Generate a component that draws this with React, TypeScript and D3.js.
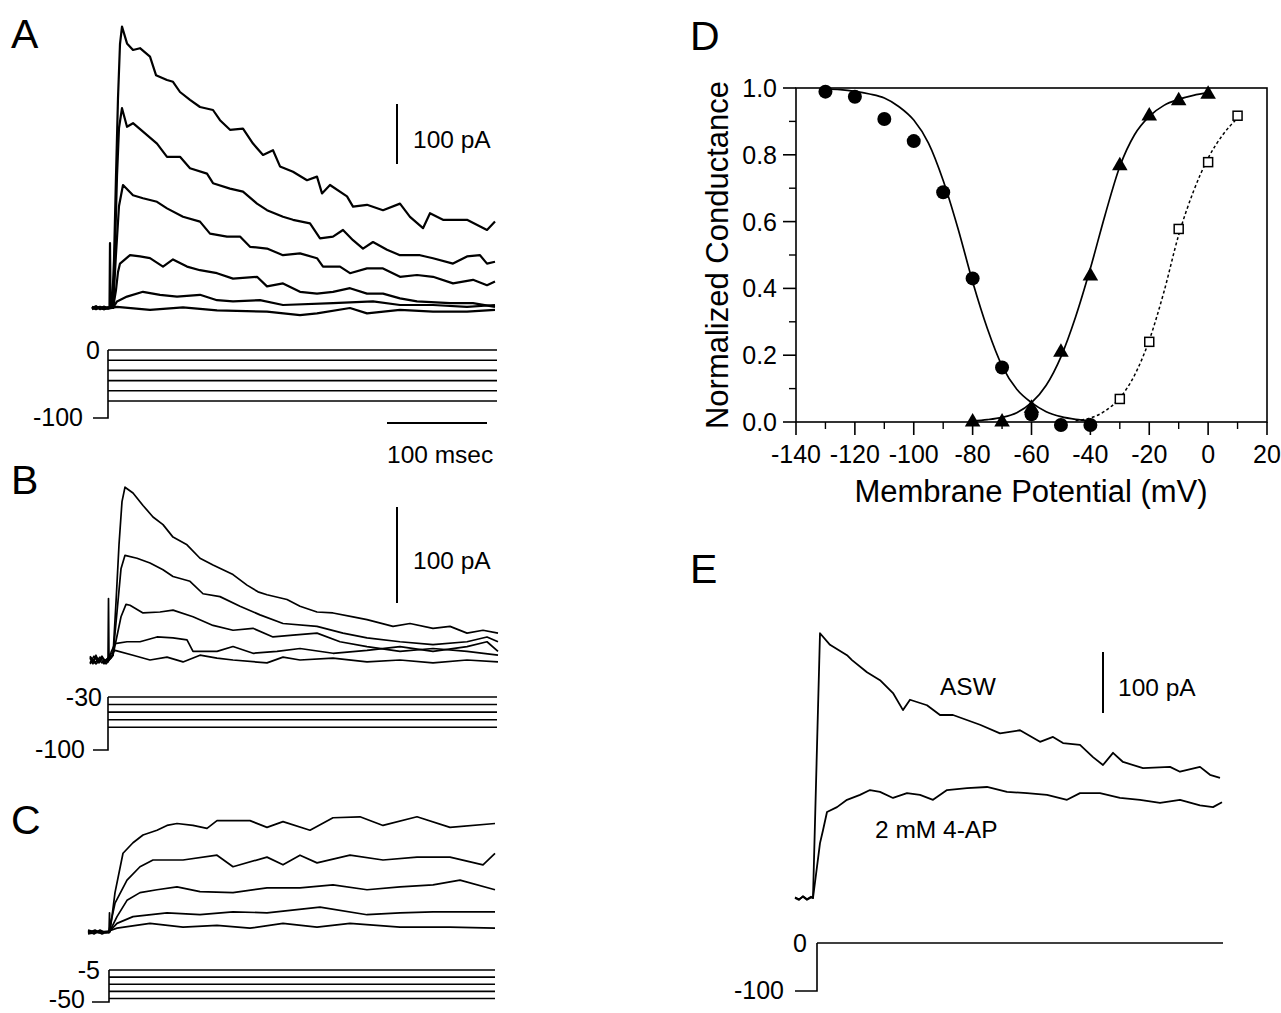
import React from 'react';
import * as d3 from 'd3';

type P = [number, number];

// ---------- Panel D data (membrane potential mV, normalized conductance) ----------
const dInactV = [-130, -120, -110, -100, -90, -80, -70, -60, -50, -40];
const dInactG = [0.989, 0.974, 0.907, 0.841, 0.688, 0.43, 0.163, 0.023, -0.009, -0.009];
const dActV = [-80, -70, -60, -50, -40, -30, -20, -10, 0];
const dActG = [0.0, 0.0, 0.041, 0.209, 0.437, 0.767, 0.916, 0.962, 0.981];
const dSqV = [-30, -20, -10, 0, 10];
const dSqG = [0.069, 0.24, 0.578, 0.778, 0.917];
const fitInactV = [-130, -125, -120, -115, -110, -105, -100, -95, -90, -85, -80, -75, -70, -65, -60, -55, -50, -45, -40];
const fitInactG = [0.997, 0.995, 0.99, 0.982, 0.97, 0.944, 0.904, 0.835, 0.723, 0.58, 0.42, 0.28, 0.168, 0.098, 0.058, 0.031, 0.016, 0.008, 0.004];
const fitActV = [-80, -75, -70, -65, -60, -55, -50, -45, -40, -35, -30, -25, -20, -15, -10, -5, 0];
const fitActG = [0.003, 0.007, 0.014, 0.028, 0.058, 0.11, 0.195, 0.315, 0.46, 0.62, 0.765, 0.86, 0.915, 0.948, 0.966, 0.978, 0.986];
const fitSqV = [-45, -40, -35, -30, -25, -20, -15, -10, -5, 0, 5, 10];
const fitSqG = [0.004, 0.012, 0.033, 0.072, 0.14, 0.245, 0.39, 0.56, 0.69, 0.79, 0.86, 0.91];
const dXTicks = [-140, -120, -100, -80, -60, -40, -20, 0, 20];
const dXMinor = [-130, -110, -90, -70, -50, -30, -10, 10];
const dYTicks = [0, 0.2, 0.4, 0.6, 0.8, 1.0];
const dYMinor = [0.1, 0.3, 0.5, 0.7, 0.9];

// ---------- Panel A current traces (ms after step, pA) ----------
const traceA1: P[] = [[-16,0],[-12,3],[-8,-2],[-4,2],[0,-1],[1.5,0],[2,108],[2.6,0],[4,0],[6,80],[8,220],[10,350],[12,440],[14,469],[19,441],[25,430],[32,433],[42,419],[48,388],[59,380],[65,377],[72,360],[82,347],[92,335],[105,330],[112,313],[122,297],[135,299],[145,274],[155,255],[165,263],[172,236],[185,227],[199,213],[209,219],[214,191],[222,205],[239,186],[245,169],[259,172],[275,163],[292,174],[302,152],[315,133],[322,158],[335,147],[359,147],[379,130],[387,144]];
const traceA2: P[] = [[-16,1],[-12,-2],[-8,2],[-4,-1],[0,1],[5,0],[7,100],[9,220],[11,300],[14,333],[19,302],[25,308],[35,294],[49,274],[59,252],[72,252],[82,233],[99,224],[105,208],[122,199],[135,194],[149,174],[159,163],[175,152],[185,147],[202,141],[212,116],[225,119],[235,130],[245,113],[255,99],[265,110],[279,97],[292,88],[312,88],[325,83],[345,74],[359,86],[372,88],[379,74],[387,77]];
const traceA3: P[] = [[-16,-1],[-12,2],[-8,0],[-4,-2],[0,1],[5,0],[8,90],[11,170],[15,205],[25,188],[35,183],[49,177],[59,166],[75,152],[92,144],[102,124],[119,119],[132,119],[142,102],[159,99],[175,88],[192,91],[209,83],[215,69],[232,69],[242,58],[259,66],[275,66],[292,52],[309,55],[325,52],[345,41],[365,47],[379,38],[387,44]];
const traceA4: P[] = [[-16,2],[-12,-1],[-8,1],[-4,-2],[0,0],[5,0],[8,30],[10,60],[12,74],[22,88],[32,86],[42,83],[55,69],[65,81],[79,69],[92,63],[109,58],[125,49],[149,52],[159,36],[175,41],[192,27],[209,24],[225,27],[242,33],[259,24],[275,24],[292,16],[309,11],[342,8],[365,8],[387,2]];
const traceA5: P[] = [[-16,-2],[-12,1],[-8,-1],[-4,2],[0,0],[5,0],[9,11],[19,19],[35,27],[52,22],[69,19],[92,22],[109,13],[125,11],[152,13],[175,5],[225,8],[265,11],[292,5],[325,5],[359,2],[387,5]];
const traceA6: P[] = [[-16,0],[-8,1],[0,-1],[9,2],[42,-3],[75,1],[109,-4],[159,-6],[192,-12],[209,-9],[242,0],[259,-9],[292,-3],[325,-6],[359,-6],[387,-3]];

// ---------- Panel B ----------
const traceB1: P[] = [[-18,2],[-15,-4],[-12,5],[-9,-3],[-6,4],[-3,-2],[0,0],[0.5,64],[1,0],[3,2],[5,5],[8,60],[11,120],[14,165],[17,180],[25,174],[35,161],[45,149],[55,141],[65,128],[79,120],[92,106],[105,99],[125,89],[139,78],[150,71],[159,68],[179,63],[192,56],[209,50],[225,49],[245,45],[259,42],[285,35],[302,38],[325,33],[342,35],[359,28],[375,31],[390,28]];
const traceB2: P[] = [[-18,-3],[-14,4],[-10,-2],[-6,3],[-2,-4],[2,1],[5,5],[9,50],[13,95],[17,109],[29,106],[42,101],[55,94],[65,87],[82,82],[95,69],[112,66],[132,56],[152,47],[175,38],[209,35],[235,28],[259,23],[292,19],[325,16],[359,19],[379,24],[390,19]];
const traceB3: P[] = [[-18,4],[-13,-3],[-8,3],[-4,-4],[0,2],[5,5],[9,25],[13,45],[18,58],[22,57],[35,49],[52,50],[65,52],[85,45],[105,36],[125,31],[145,33],[165,24],[185,26],[209,28],[232,19],[259,14],[292,9],[325,12],[359,9],[390,5]];
const traceB4: P[] = [[-18,-4],[-12,3],[-6,-3],[0,2],[3,8],[7,17],[19,19],[32,19],[49,24],[65,23],[79,21],[85,9],[109,9],[125,14],[145,7],[169,9],[192,12],[225,7],[259,10],[292,14],[325,9],[359,14],[379,19],[390,9]];
const traceB5: P[] = [[-18,3],[-12,-4],[-6,2],[0,-2],[3,6],[7,10],[25,5],[42,0],[59,3],[75,-2],[92,5],[109,2],[125,0],[159,-3],[175,3],[192,0],[225,2],[259,-2],[292,0],[325,-3],[359,0],[390,-2]];

// ---------- Panel C ----------
const traceC1: P[] = [[-21,1],[-15,-2],[-9,2],[-3,-1],[0,0],[0.5,20],[1,0],[6,41],[14,82],[24,93],[34,101],[48,106],[58,111],[68,113],[84,111],[98,108],[108,116],[141,116],[158,109],[174,115],[201,106],[224,119],[251,120],[274,111],[308,120],[341,109],[386,113]];
const traceC2: P[] = [[-21,-1],[-14,2],[-7,-2],[0,1],[6,30],[18,54],[31,68],[44,75],[74,75],[108,80],[124,68],[158,78],[174,70],[191,80],[208,72],[241,80],[274,75],[308,78],[341,78],[374,70],[386,82]];
const traceC3: P[] = [[-21,0],[-10,1],[0,-1],[8,16],[18,33],[31,41],[48,44],[68,47],[91,42],[124,41],[158,46],[191,46],[224,49],[258,44],[291,47],[324,49],[351,54],[386,44]];
const traceC4: P[] = [[-21,2],[-10,-1],[0,0],[8,9],[24,16],[58,20],[91,18],[124,21],[158,20],[211,26],[258,18],[291,20],[324,21],[386,21]];
const traceC5: P[] = [[-21,-2],[-10,0],[0,1],[8,4],[41,9],[74,5],[108,7],[141,4],[174,9],[208,5],[241,9],[291,5],[341,5],[386,4]];

// ---------- Panel E ----------
const traceASW: P[] = [[-22,0],[-18,-3],[-14,3],[-10,-2],[-6,2],[-4,0],[3,434],[13,415],[30,398],[35,390],[50,370],[63,357],[76,336],[86,308],[93,325],[110,316],[123,300],[136,300],[163,284],[183,270],[203,275],[223,256],[236,264],[246,254],[263,251],[276,231],[286,218],[296,238],[306,223],[326,213],[353,215],[363,207],[383,215],[393,202],[403,197]];
const trace4AP: P[] = [[-22,1],[-18,-2],[-14,2],[-10,-3],[-6,1],[-4,0],[3,90],[6,111],[10,141],[20,149],[30,161],[43,169],[53,177],[63,174],[76,164],[90,172],[103,169],[116,161],[130,177],[150,180],[170,182],[190,174],[210,172],[230,169],[250,161],[263,172],[283,172],[303,164],[323,161],[343,156],[363,161],[383,152],[396,149],[405,157]];

// ---------- Voltage protocols (mV) ----------
const stepsA = [0, -15, -30, -45, -60, -75];
const stepsB = [-30, -40, -50, -60, -70];
const stepsC = [-5, -15, -25, -35, -45];
const stepsE = [0];
const holdA = -100, holdB = -100, holdC = -50, holdE = -100;
const labelsA = ['0', '-100'];
const labelsB = ['-30', '-100'];
const labelsC = ['-5', '-50'];
const labelsE = ['0', '-100'];

const FONT = "'Liberation Sans', Arial, Helvetica, sans-serif";

function Trace({ data, xs, ys, w }: { data: P[]; xs: any; ys: any; w: number }) {
  const gen = d3.line<P>().x(d => xs(d[0])).y(d => ys(d[1]));
  return <path d={gen(data) || ''} fill="none" stroke="#000" strokeWidth={w} strokeLinejoin="round" />;
}

function Protocol({ steps, hold, labels, xs, vs, tStart, tEnd, topLabelX, botLabelX, botDy = 8 }: any) {
  const top = Math.max(...steps);
  const x0 = xs(0);
  return (
    <g>
      <path d={`M${xs(tStart)},${vs(hold)}H${x0}V${vs(top)}`} fill="none" stroke="#000" strokeWidth={1.6} />
      {steps.map((s: number, i: number) => (
        <line key={i} x1={x0} x2={xs(tEnd)} y1={vs(s)} y2={vs(s)} stroke="#000" strokeWidth={1.6} />
      ))}
      <text x={topLabelX} y={vs(top) + 9} textAnchor="end" fontSize={25} fontFamily={FONT}>{labels[0]}</text>
      <text x={botLabelX} y={vs(hold) + botDy} textAnchor="end" fontSize={25} fontFamily={FONT}>{labels[1]}</text>
    </g>
  );
}

export default function App() {
  // Panel A scales
  const xA = d3.scaleLinear().domain([0, 100]).range([108, 208]);
  const yA = d3.scaleLinear().domain([0, 100]).range([308, 248]);
  const vA = d3.scaleLinear().domain([-100, 0]).range([418, 350]);
  // Panel B
  const xB = d3.scaleLinear().domain([0, 100]).range([108, 208]);
  const yB = d3.scaleLinear().domain([0, 100]).range([660, 564]);
  const vB = d3.scaleLinear().domain([-100, -30]).range([750, 697]);
  // Panel C
  const xC = d3.scaleLinear().domain([0, 100]).range([109, 209]);
  const yC = d3.scaleLinear().domain([0, 100]).range([932, 836]);
  const vC = d3.scaleLinear().domain([-50, -5]).range([1002, 970]);
  // Panel E
  const xE = d3.scaleLinear().domain([0, 100]).range([817, 917]);
  const yE = d3.scaleLinear().domain([0, 100]).range([898, 837]);
  const vE = d3.scaleLinear().domain([-100, 0]).range([991, 943]);
  // Panel D
  const xD = d3.scaleLinear().domain([-140, 20]).range([796, 1267]);
  const yD = d3.scaleLinear().domain([0, 1]).range([422, 88]);

  const mk = (vs: number[], gs: number[]) =>
    d3.line<number>().x(i => xD(vs[i])).y(i => yD(gs[i])).curve(d3.curveMonotoneX)(vs.map((_, i) => i)) || '';
  const tri = d3.symbol().type(d3.symbolTriangle).size(105)() || '';

  const label = (t: string, x: number, y: number) => (
    <text x={x} y={y} fontSize={41} fontFamily={FONT}>{t}</text>
  );

  return (
    <svg width={1281} height={1013} style={{ position: 'absolute', left: 0, top: 0, background: '#fff' }}>
      <rect x={0} y={0} width={1281} height={1013} fill="#fff" />
      {label('A', 11, 48)}
      {label('B', 11, 494)}
      {label('C', 11, 834)}
      {label('D', 690, 50)}
      {label('E', 690, 583)}

      {/* Panel A */}
      {[traceA6, traceA5, traceA4, traceA3, traceA2, traceA1].map((t, i) => (
        <Trace key={i} data={t} xs={xA} ys={yA} w={2.2} />
      ))}
      <line x1={397} x2={397} y1={164} y2={164 - (yA(0) - yA(100))} stroke="#000" strokeWidth={2} />
      <text x={413} y={148} fontSize={24.5} fontFamily={FONT}>100 pA</text>
      <line x1={387} x2={387 + (xA(100) - xA(0))} y1={423} y2={423} stroke="#000" strokeWidth={2} />
      <text x={387} y={463} fontSize={24.5} fontFamily={FONT}>100 msec</text>
      <Protocol steps={stepsA} hold={holdA} labels={labelsA} xs={xA} vs={vA} tStart={-15} tEnd={389} topLabelX={100} botLabelX={83} />

      {/* Panel B */}
      {[traceB5, traceB4, traceB3, traceB2, traceB1].map((t, i) => (
        <Trace key={i} data={t} xs={xB} ys={yB} w={1.7} />
      ))}
      <line x1={397} x2={397} y1={603} y2={603 - (yB(0) - yB(100))} stroke="#000" strokeWidth={2} />
      <text x={413} y={569} fontSize={24.5} fontFamily={FONT}>100 pA</text>
      <Protocol steps={stepsB} hold={holdB} labels={labelsB} xs={xB} vs={vB} tStart={-15} tEnd={389} topLabelX={102} botLabelX={85} />

      {/* Panel C */}
      {[traceC5, traceC4, traceC3, traceC2, traceC1].map((t, i) => (
        <Trace key={i} data={t} xs={xC} ys={yC} w={1.7} />
      ))}
      <Protocol steps={stepsC} hold={holdC} labels={labelsC} xs={xC} vs={vC} tStart={-17} tEnd={386} topLabelX={100} botLabelX={85} botDy={6} />

      {/* Panel E */}
      <Trace data={traceASW} xs={xE} ys={yE} w={1.8} />
      <Trace data={trace4AP} xs={xE} ys={yE} w={1.8} />
      <line x1={1103} x2={1103} y1={713} y2={713 - (yE(0) - yE(100))} stroke="#000" strokeWidth={2} />
      <text x={1118} y={696} fontSize={24.5} fontFamily={FONT}>100 pA</text>
      <text x={940} y={695} fontSize={24.5} fontFamily={FONT}>ASW</text>
      <text x={875} y={838} fontSize={24.5} fontFamily={FONT}>2 mM 4-AP</text>
      <Protocol steps={stepsE} hold={holdE} labels={labelsE} xs={xE} vs={vE} tStart={-22} tEnd={406} topLabelX={807} botLabelX={784} />

      {/* Panel D */}
      <g fontFamily={FONT}>
        <rect x={xD(-140)} y={yD(1)} width={xD(20) - xD(-140)} height={yD(0) - yD(1)} fill="none" stroke="#000" strokeWidth={1.6} />
        {dXTicks.map(v => (
          <g key={'xt' + v}>
            <line x1={xD(v)} x2={xD(v)} y1={yD(0)} y2={yD(0) + 13} stroke="#000" strokeWidth={1.6} />
            <text x={xD(v)} y={463} textAnchor="middle" fontSize={25}>{v}</text>
          </g>
        ))}
        {dXMinor.map(v => (
          <line key={'xm' + v} x1={xD(v)} x2={xD(v)} y1={yD(0)} y2={yD(0) + 7} stroke="#000" strokeWidth={1.4} />
        ))}
        {dYTicks.map(g => (
          <g key={'yt' + g}>
            <line x1={xD(-140) - 13} x2={xD(-140)} y1={yD(g)} y2={yD(g)} stroke="#000" strokeWidth={1.6} />
            <text x={777} y={yD(g) + 9} textAnchor="end" fontSize={25}>{g.toFixed(1)}</text>
          </g>
        ))}
        {dYMinor.map(g => (
          <line key={'ym' + g} x1={xD(-140) - 7} x2={xD(-140)} y1={yD(g)} y2={yD(g)} stroke="#000" strokeWidth={1.4} />
        ))}
        <text x={1031} y={502} textAnchor="middle" fontSize={31}>Membrane Potential (mV)</text>
        <text transform="translate(728,255) rotate(-90)" textAnchor="middle" fontSize={31}>Normalized Conductance</text>

        <path d={mk(fitInactV, fitInactG)} fill="none" stroke="#000" strokeWidth={1.7} />
        <path d={mk(fitActV, fitActG)} fill="none" stroke="#000" strokeWidth={1.7} />
        <path d={mk(fitSqV, fitSqG)} fill="none" stroke="#000" strokeWidth={1.5} strokeDasharray="3,2.5" />

        {dInactV.map((v, i) => (
          <circle key={'c' + v} cx={xD(v)} cy={yD(dInactG[i])} r={7} fill="#000" />
        ))}
        {dActV.map((v, i) => (
          <path key={'t' + v} d={tri} transform={`translate(${xD(v)},${yD(dActG[i])})`} fill="#000" />
        ))}
        {dSqV.map((v, i) => (
          <rect key={'s' + v} x={xD(v) - 4.5} y={yD(dSqG[i]) - 4.5} width={9} height={9} fill="#fff" stroke="#000" strokeWidth={1.5} />
        ))}
      </g>
    </svg>
  );
}
